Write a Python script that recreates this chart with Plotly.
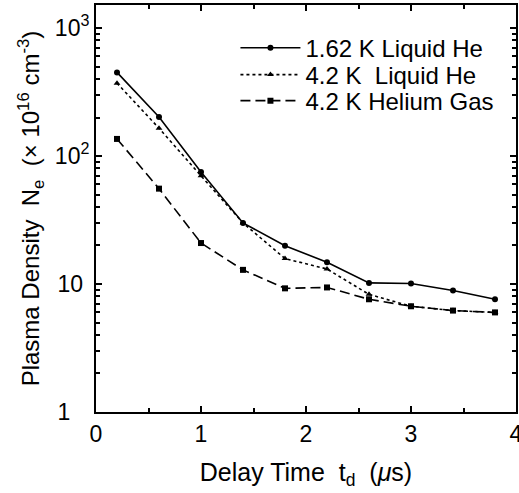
import plotly.graph_objects as go

# Delay times (microseconds)
delay_us = [0.2, 0.6, 1.0, 1.4, 1.8, 2.2, 2.6, 3.0, 3.4, 3.8]

# Plasma density (x10^16 cm^-3)
ne_162K_liquid = [450, 202, 75, 30, 19.9, 14.8, 10.2, 10.1, 8.9, 7.6]
ne_42K_liquid = [371, 165, 70, 30, 15.8, 13.1, 8.3, 6.7, 6.2, 6.0]
ne_42K_gas = [136, 55.6, 20.9, 12.9, 9.25, 9.4, 7.6, 6.7, 6.2, 6.0]

series_names = ["1.62 K Liquid He", "4.2 K  Liquid He", "4.2 K Helium Gas"]

NB = "\u00a0"
x_tickvals = [0, 1, 2, 3, 4]
y_tickvals = [1, 10, 100, 1000]
# labels padded so they line up on their left side
y_ticktext = ["1" + NB * 3, "10" + NB, "10<sup>2</sup>", "10<sup>3</sup>"]
y_minor = [m * d for d in (1, 10, 100) for m in range(2, 10)]

FONT = "Liberation Sans, Arial, sans-serif"

fig = go.Figure()
fig.add_trace(go.Scatter(
    x=delay_us, y=ne_162K_liquid, name=series_names[0], mode="lines+markers",
    line=dict(color="black", width=1.6, dash="solid"),
    marker=dict(symbol="circle", size=6, color="black"),
    legend="legend",
))
fig.add_trace(go.Scatter(
    x=delay_us, y=ne_42K_liquid, name=series_names[1], mode="lines+markers",
    line=dict(color="black", width=1.6, dash="3px,3px"),
    marker=dict(symbol="triangle-up", size=6, color="black"),
    legend="legend2",
))
fig.add_trace(go.Scatter(
    x=delay_us, y=ne_42K_gas, name=series_names[2], mode="lines+markers",
    line=dict(color="black", width=1.6, dash="10px,5px"),
    marker=dict(symbol="square", size=6, color="black"),
    legend="legend3",
))


def legend_box(ypos):
    return dict(
        x=0.332, y=ypos, xanchor="left", yanchor="middle",
        bgcolor="rgba(0,0,0,0)", borderwidth=0,
        font=dict(size=24), itemwidth=60,
    )


fig.update_layout(
    width=519, height=493,
    margin=dict(l=96, r=3, t=5, b=81),
    plot_bgcolor="white", paper_bgcolor="white",
    font=dict(family=FONT, size=23, color="black"),
    showlegend=True,
    legend=legend_box(0.894),
    legend2=legend_box(0.828),
    legend3=legend_box(0.764),
)

fig.update_xaxes(
    range=[0, 4], tickvals=x_tickvals, automargin=False,
    ticks="inside", ticklen=6, tickwidth=1.5, tickcolor="black",
    minor=dict(tickvals=[0.5, 1.5, 2.5, 3.5], ticks="inside", ticklen=4, tickcolor="black"),
    showline=True, linecolor="black", linewidth=2, mirror="ticks",
    showgrid=False, zeroline=False,
    tickfont=dict(size=23), ticklabeloverflow="allow",
    title=dict(text="Delay Time  t<sub>d</sub>  (<i>μ</i>s)", font=dict(size=25), standoff=18),
)
fig.update_yaxes(
    type="log", range=[0, 3.18], automargin=False,
    tickvals=y_tickvals, ticktext=y_ticktext,
    ticks="inside", ticklen=6, tickwidth=1.5, tickcolor="black",
    minor=dict(tickvals=y_minor, ticks="inside", ticklen=4, tickcolor="black"),
    showline=True, linecolor="black", linewidth=2, mirror="ticks",
    showgrid=False, zeroline=False,
    tickfont=dict(size=23),
    title=dict(text="Plasma Density  N<sub>e</sub>  (× 10<sup>16</sup> cm<sup>-3</sup>)",
               font=dict(size=24), standoff=8),
)

fig.write_html("out.html")
